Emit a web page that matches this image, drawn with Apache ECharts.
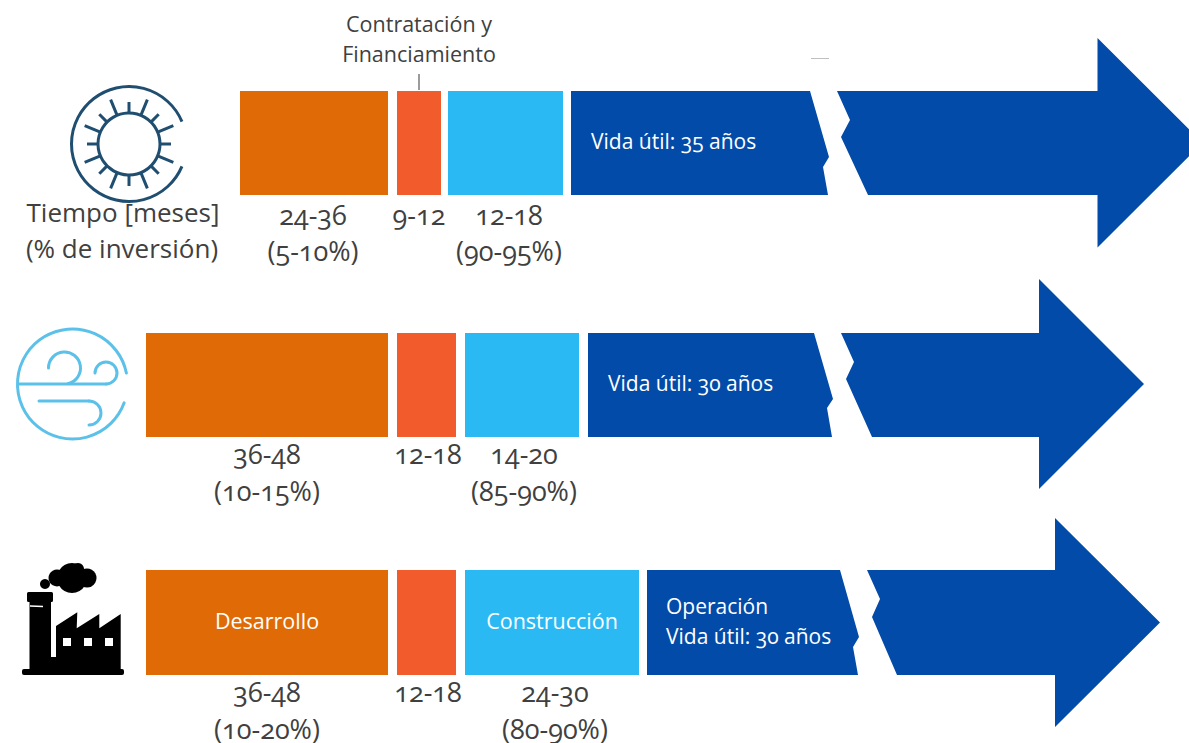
<!DOCTYPE html>
<html lang="es">
<head>
<meta charset="utf-8">
<title>Etapas de proyectos de generación</title>
<style>
  html, body { margin: 0; padding: 0; background: #fff; }
  #chart { width: 1189px; height: 743px; }
  svg text { font-feature-settings: "onum" 1; font-variant-numeric: oldstyle-nums; }
</style>
<script src="https://cdn.jsdelivr.net/npm/echarts@6/dist/echarts.min.js"></script>
</head>
<body>
<div id="chart"></div>
<script>
// Filas: solar, eólica y térmica, en unidades del eje esquemático
const rowTop = [91, 333, 570];
const rowBottom = [195, 437, 675];

// Tramos de cada fase [inicio, fin]
const desarrollo = [[240, 388], [146, 388], [146, 388]];
const contratacion = [[397, 441], [397, 456], [397, 456]];
const construccion = [[448, 563], [465, 579], [465, 639]];

// Duraciones e inversión por fase
const mesesDesarrollo = ['24-36', '36-48', '36-48'];
const inversionDesarrollo = ['(5-10%)', '(10-15%)', '(10-20%)'];
const mesesContratacion = ['9-12', '12-18', '12-18'];
const mesesConstruccion = ['12-18', '14-20', '24-30'];
const inversionConstruccion = ['(90-95%)', '(85-90%)', '(80-90%)'];

// Flecha de operación
const operacionInicio = [571, 588, 647];
const cabezaX = [1097.5, 1039, 1055];
const puntaX = [1202.5, 1144, 1160];
const cabezaArriba = [38, 279, 518];
const cabezaAbajo = [247.5, 489, 727];
const corteIzquierdo = [
  [[810, 91], [829, 157], [823, 167], [828, 195]],
  [[814, 333], [833, 399], [827, 408], [832, 437]],
  [[840, 570], [859, 637], [853, 647], [858, 675]]
];
const corteDerecho = [
  [[837, 91], [850, 120], [841, 137], [868, 195]],
  [[841, 333], [854, 362], [846, 379], [872, 437]],
  [[867, 570], [880, 599], [872, 617], [897, 675]]
];
const vidaUtil = ['Vida útil: 35 años', 'Vida útil: 30 años', 'Vida útil: 30 años'];

const COLORS = { desarrollo: '#E06B06', contratacion: '#F25C2C', construccion: '#2BB9F4', operacion: '#034BA8', text: '#404040' };
const FONT = '"Open Sans", "Noto Sans", sans-serif';
const SIZE_NUM = 27;
const SIZE_WORD = 26;
const SIZE_MID = 21.5;
const SIZE_VIDA = 21;

const bars = [];
[[desarrollo, COLORS.desarrollo], [contratacion, COLORS.contratacion], [construccion, COLORS.construccion]].forEach(([spans, color]) => {
  spans.forEach((s, r) => bars.push({ value: [s[0], s[1], rowTop[r], rowBottom[r]], itemStyle: { color } }));
});

// Textos anclados a las fases
const textRows = [];
const addText = (x, y, t, align, size, fill) => textRows.push({ x, y, t, align: align || 'center', size: size || SIZE_NUM, fill: fill || COLORS.text });
const mid = s => (s[0] + s[1]) / 2;
const shiftCons = [3.5, 2, 3];
const shiftCont = [0, 1.5, 1.5];
const gapMeses = [19, 16, 16];
const gapInversion = [55, 53, 53];
rowBottom.forEach((b, r) => {
  addText(mid(desarrollo[r]) - (r === 0 ? 1 : 0), b + gapMeses[r], mesesDesarrollo[r]);
  addText(mid(desarrollo[r]) - (r === 0 ? 1 : 0), b + gapInversion[r], inversionDesarrollo[r]);
  addText(mid(contratacion[r]) + shiftCont[r], b + gapMeses[r], mesesContratacion[r]);
  addText(mid(construccion[r]) + shiftCons[r], b + gapMeses[r], mesesConstruccion[r]);
  addText(mid(construccion[r]) + shiftCons[r], b + gapInversion[r], inversionConstruccion[r]);
});
addText(123, 212, 'Tiempo [meses]', 'center', SIZE_WORD);
addText(122, 248, '(% de inversión)', 'center', SIZE_WORD);
addText(419, 23, 'Contratación y', 'center', SIZE_MID);
addText(419, 53, 'Financiamiento', 'center', SIZE_MID);
addText(591, 141, vidaUtil[0], 'left', SIZE_VIDA, '#fff');
addText(608, 383, vidaUtil[1], 'left', SIZE_VIDA, '#fff');
addText(666, 636, vidaUtil[2], 'left', SIZE_VIDA, '#fff');
addText(666, 606, 'Operación', 'left', SIZE_VIDA, '#fff');
addText(mid(desarrollo[2]), 620, 'Desarrollo', 'center', SIZE_MID, '#fff');
addText(mid(construccion[2]), 620, 'Construcción', 'center', SIZE_MID, '#fff');

// Icono del sol: rayos alternos cortos y largos
const SUN = { cx: 129, cy: 144, inner: 31, outer: 57.5, color: '#1F4E70' };
const sunRays = [];
for (let i = 0; i < 16; i++) {
  const a = i * Math.PI / 8;
  const len = i % 2 ? 48 : 42;
  sunRays.push({
    type: 'line',
    shape: {
      x1: SUN.cx + SUN.inner * Math.cos(a), y1: SUN.cy + SUN.inner * Math.sin(a),
      x2: SUN.cx + len * Math.cos(a), y2: SUN.cy + len * Math.sin(a)
    },
    style: { stroke: SUN.color, lineWidth: 3 }
  });
}
const sunIcon = [
  { type: 'arc', shape: { cx: SUN.cx, cy: SUN.cy, r: SUN.outer, startAngle: 0.4, endAngle: 2 * Math.PI - 0.4 }, style: { stroke: SUN.color, lineWidth: 3, fill: 'none' } },
  { type: 'circle', shape: { cx: SUN.cx, cy: SUN.cy, r: SUN.inner }, style: { stroke: SUN.color, lineWidth: 3, fill: 'none' } }
].concat(sunRays);

// Icono del viento
const WIND = '#5CC1E9';
const windStroke = { stroke: WIND, lineWidth: 3, fill: 'none', lineCap: 'round' };
const windIcon = [
  { type: 'arc', shape: { cx: 72.5, cy: 384, r: 55, startAngle: 0.35, endAngle: 2 * Math.PI - 0.2 }, style: windStroke },
  { type: 'line', shape: { x1: 18, y1: 384, x2: 106, y2: 384 }, style: windStroke },
  { type: 'arc', shape: { cx: 106, cy: 373, r: 11, startAngle: Math.PI, endAngle: 2.5 * Math.PI }, style: windStroke },
  { type: 'arc', shape: { cx: 64.5, cy: 368, r: 16, startAngle: Math.PI, endAngle: 2 * Math.PI + 1.35 }, style: windStroke },
  { type: 'line', shape: { x1: 39, y1: 401, x2: 89, y2: 401 }, style: windStroke },
  { type: 'arc', shape: { cx: 89, cy: 413, r: 12, startAngle: -Math.PI / 2, endAngle: Math.PI / 2 }, style: windStroke }
];

// Icono de la fábrica
const factoryIcon = [
  { type: 'rect', shape: { x: 22, y: 669, width: 102, height: 6, r: 2 }, style: { fill: '#000' } },
  { type: 'rect', shape: { x: 27, y: 592, width: 26, height: 10, r: 1.5 }, style: { fill: '#000' } },
  { type: 'rect', shape: { x: 29.5, y: 602, width: 21.5, height: 68 }, style: { fill: '#000' } },
  { type: 'rect', shape: { x: 50, y: 657, width: 8, height: 13 }, style: { fill: '#000' } },
  { type: 'polygon', shape: { points: [[56, 626], [77.3, 612.3], [76.7, 628.3], [99.3, 614], [99.3, 628.3], [120.7, 614], [120.7, 670], [56, 670]] }, style: { fill: '#000' } },
  { type: 'rect', shape: { x: 63, y: 638, width: 8, height: 8 }, style: { fill: '#fff' } },
  { type: 'rect', shape: { x: 84, y: 638, width: 8, height: 8 }, style: { fill: '#fff' } },
  { type: 'rect', shape: { x: 105, y: 638, width: 8, height: 8 }, style: { fill: '#fff' } },
  { type: 'line', shape: { x1: 30, y1: 606, x2: 43, y2: 606.5 }, style: { stroke: '#fff', lineWidth: 1.4 } },
  { type: 'circle', shape: { cx: 45, cy: 584, r: 5 }, style: { fill: '#000' } },
  { type: 'circle', shape: { cx: 57, cy: 578, r: 8.5 }, style: { fill: '#000' } },
  { type: 'circle', shape: { cx: 72, cy: 578, r: 15 }, style: { fill: '#000' } },
  { type: 'circle', shape: { cx: 87, cy: 578, r: 9.5 }, style: { fill: '#000' } },
  { type: 'circle', shape: { cx: 78, cy: 569, r: 6 }, style: { fill: '#000' } }
];

// Trazos sueltos: guía de contratación y marca gris sobre el corte solar
const strokes = [
  { type: 'line', shape: { x1: 419, y1: 74, x2: 419, y2: 90 }, style: { stroke: '#595959', lineWidth: 1.2 } },
  { type: 'line', shape: { x1: 811, y1: 58.5, x2: 829, y2: 58.5 }, style: { stroke: '#BFBFBF', lineWidth: 1 } }
];

const chart = echarts.init(document.getElementById('chart'), null, { renderer: 'svg' });
chart.setOption({
  animation: false,
  backgroundColor: '#fff',
  grid: { left: 0, right: 0, top: 0, bottom: 0, containLabel: false },
  xAxis: { type: 'value', min: 0, max: 1189, show: false },
  yAxis: { type: 'value', min: 0, max: 743, inverse: true, show: false },
  graphic: { elements: sunIcon.concat(windIcon, factoryIcon, strokes) },
  series: [
    {
      name: 'Fases',
      type: 'custom',
      clip: false,
      silent: true,
      data: bars,
      renderItem: (params, api) => {
        const p0 = api.coord([api.value(0), api.value(2)]);
        const p1 = api.coord([api.value(1), api.value(3)]);
        return { type: 'rect', shape: { x: p0[0], y: p0[1], width: p1[0] - p0[0], height: p1[1] - p0[1] }, style: { fill: api.visual('color') } };
      }
    },
    {
      name: 'Operación',
      type: 'custom',
      clip: false,
      silent: true,
      data: rowTop.map((t, r) => [r]),
      renderItem: (params, api) => {
        const r = params.dataIndex;
        const left = [[operacionInicio[r], rowTop[r]]].concat(corteIzquierdo[r], [[operacionInicio[r], rowBottom[r]]]);
        const mitad = (cabezaArriba[r] + cabezaAbajo[r]) / 2;
        const right = corteDerecho[r].concat([
          [cabezaX[r], rowBottom[r]], [cabezaX[r], cabezaAbajo[r]], [puntaX[r], mitad],
          [cabezaX[r], cabezaArriba[r]], [cabezaX[r], rowTop[r]]
        ]);
        return {
          type: 'group',
          children: [left, right].map(pts => ({
            type: 'polygon',
            shape: { points: pts.map(p => api.coord(p)) },
            style: { fill: COLORS.operacion }
          }))
        };
      }
    },
    {
      name: 'Textos',
      type: 'custom',
      clip: false,
      silent: true,
      z: 5,
      data: textRows.map((t, i) => [i]),
      renderItem: (params, api) => {
        const t = textRows[params.dataIndex];
        const p = api.coord([t.x, t.y]);
        return {
          type: 'text',
          style: { text: t.t, x: p[0], y: p[1], align: t.align, verticalAlign: 'middle', fontFamily: FONT, fontSize: t.size, fill: t.fill }
        };
      }
    }
  ]
});
</script>
</body>
</html>
